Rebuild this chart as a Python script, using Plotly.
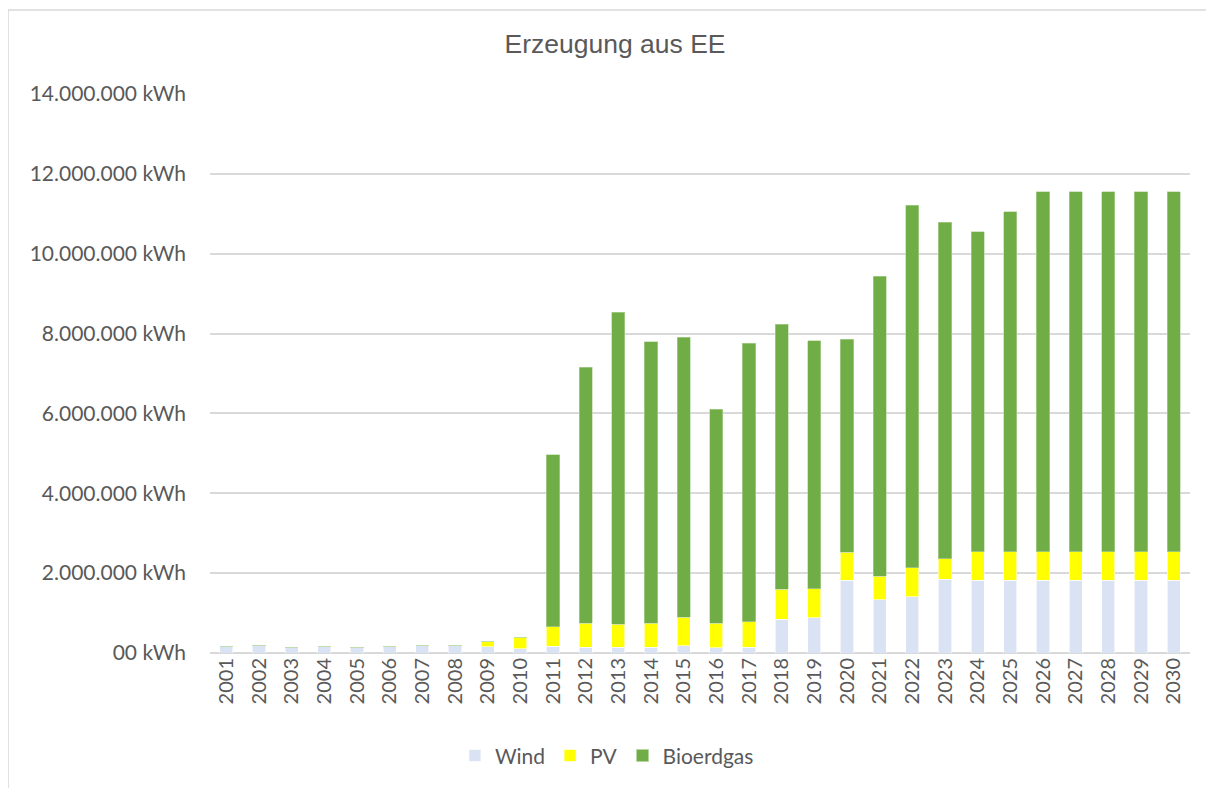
import plotly.graph_objects as go

years = [str(y) for y in range(2001, 2031)]

wind = [175_000, 200_000, 150_000, 175_000, 150_000, 175_000, 200_000, 190_000, 160_000, 108_000,
        175_000, 150_000, 143_000, 143_000, 185_000, 135_000, 150_000, 844_000, 887_000, 1_821_000,
        1_337_000, 1_412_000, 1_846_000, 1_821_000, 1_821_000, 1_821_000, 1_821_000, 1_821_000, 1_821_000, 1_821_000]
pv = [0, 0, 0, 0, 0, 0, 0, 0, 125_000, 290_000,
      485_000, 593_000, 575_000, 608_000, 709_000, 616_000, 636_000, 751_000, 716_000, 701_000,
      584_000, 717_000, 516_000, 719_000, 719_000, 719_000, 719_000, 719_000, 719_000, 719_000]
bioerdgas = [0, 0, 0, 0, 0, 0, 0, 0, 0, 0,
             4_306_000, 6_412_000, 7_815_000, 7_046_000, 7_012_000, 5_360_000, 6_970_000, 6_637_000, 6_219_000, 5_334_000,
             7_513_000, 9_091_000, 8_425_000, 8_004_000, 8_513_000, 9_006_000, 9_006_000, 9_006_000, 9_006_000, 9_006_000]

tick_vals = [0, 2e6, 4e6, 6e6, 8e6, 10e6, 12e6, 14e6]
tick_text = ["00 kWh", "2.000.000 kWh", "4.000.000 kWh", "6.000.000 kWh", "8.000.000 kWh",
             "10.000.000 kWh", "12.000.000 kWh", "14.000.000 kWh"]

grey = "#595959"
font_ticks = "Lato, 'Open Sans', sans-serif"

fig = go.Figure()
fig.add_trace(go.Bar(x=years, y=wind, name="Wind", marker=dict(color="#dae3f3", line=dict(width=0.6, color="#ffffff"))))
fig.add_trace(go.Bar(x=years, y=pv, name="PV", marker=dict(color="#ffff00", line=dict(width=0.6, color="#ffffff"))))
fig.add_trace(go.Bar(x=years, y=bioerdgas, name="Bioerdgas", marker=dict(color="#70ad47", line=dict(width=0.6, color="#b5d59f"))))

# chart frame (only left and top edges are inside the picture)
fig.add_shape(type="line", xref="paper", yref="paper", x0=-0.2061, x1=1.04, y0=1.1503, y1=1.1503,
              line=dict(color="#d9d9d9", width=1.5))
fig.add_shape(type="line", xref="paper", yref="paper", x0=-0.2061, x1=-0.2061, y0=1.1503, y1=-0.25,
              line=dict(color="#d9d9d9", width=1.5))

fig.update_layout(
    width=1214, height=788,
    barmode="stack", bargap=0.6,
    paper_bgcolor="white", plot_bgcolor="white",
    margin=dict(l=202, r=32, t=86, b=143),
    title=dict(text="Erzeugung aus EE", x=0.5, xanchor="center", y=0.955, yanchor="middle",
               font=dict(family="Liberation Sans, Arial, sans-serif", size=26.5, color=grey)),
    legend=dict(orientation="h", x=0.405, xanchor="center", y=-0.184, yanchor="middle",
                font=dict(family=font_ticks, size=21, color=grey), traceorder="normal",
                itemwidth=30),
    showlegend=True,
)
fig.update_yaxes(range=[0, 14e6], tickvals=tick_vals, ticktext=tick_text,
                 gridcolor="#d9d9d9", gridwidth=1.5, zeroline=True, zerolinecolor="#d9d9d9", zerolinewidth=1.5,
                 tickfont=dict(family=font_ticks, size=21, color=grey), ticks="", ticklabelstandoff=23)
fig.update_xaxes(tickangle=-90, tickfont=dict(family=font_ticks, size=20, color=grey),
                 showline=False, showgrid=False)

fig.write_html("out.html")
